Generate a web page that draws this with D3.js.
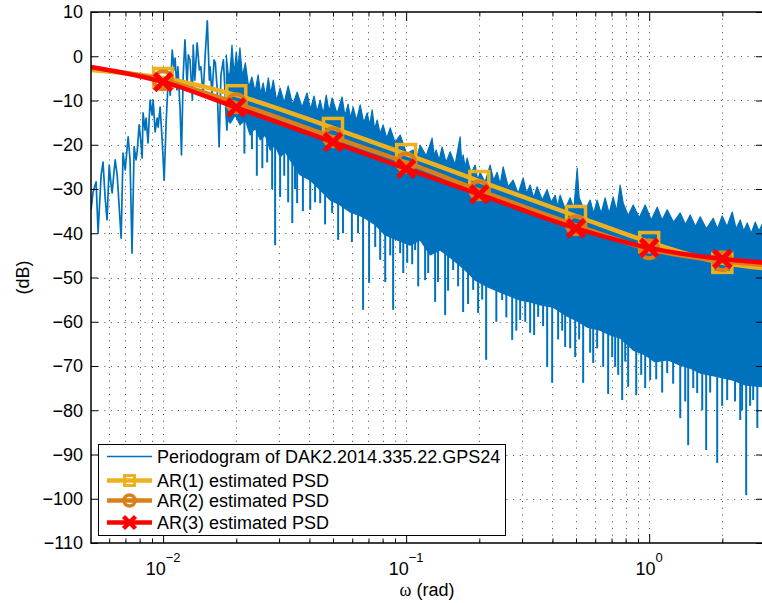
<!DOCTYPE html>
<html>
<head>
<meta charset="utf-8">
<script src="https://cdn.jsdelivr.net/npm/d3@7"></script>
<style>
  body { margin: 0; background: #fff; }
  svg text { font-family: "Liberation Sans", Arial, Helvetica, sans-serif; }
</style>
</head>
<body>
<div id="chart"></div>
<script>

// periodogram, low frequencies (single line)
const pgW = [0.00505,0.00515,0.00525,0.0053,0.0054,0.00556,0.00566,0.00577,0.00588,0.006,0.00611,0.00617,0.00629,0.00635,0.00647,0.00653,0.00672,0.00684,0.00698,0.00704,0.00718,0.00731,0.00745,0.0076,0.00774,0.00782,0.00797,0.00812,0.0082,0.00827,0.00843,0.00851,0.00867,0.00884,0.00901,0.0091,0.00927,0.00945,0.00954,0.00972,0.00991,0.0101,0.0103,0.0104,0.0105,0.0107,0.0109,0.0111,0.0112,0.0114,0.0115,0.01175,0.0119,0.0121,0.0123,0.01255,0.0127,0.0129,0.0132,0.0133,0.0135,0.0138,0.0141,0.0143,0.0146,0.0149,0.0152,0.0155,0.0156,0.0159,0.0162,0.0164,0.0167,0.017,0.0173,0.0177,0.018,0.0183,0.0187,0.0189];
const pgDb = [-34.7,-30.7,-29.1,-28.4,-39.9,-26.8,-23.9,-31.8,-37.0,-24.6,-29.1,-30.9,-25.7,-23.4,-26.8,-30.2,-41.1,-21.9,-25.7,-23.4,-18.2,-23.4,-44.5,-20.5,-23.4,-21.6,-15.5,-20.1,-23.0,-12.8,-16.7,-14.0,-19.6,-9.9,-13.3,-9.9,-17.1,-14.0,-16.0,-11.5,-18.9,-28.0,-14.4,-9.9,-4.2,-8.8,1.4,-3.1,-0.4,-7.6,-2.4,-12.1,-22.3,-4.2,3.7,-6.5,0.3,-0.8,-9.9,2.5,-5.4,3.0,-3.1,-2.4,-8.8,0.3,8.0,-5.4,-2.4,-8.8,-0.8,-1.5,-7.6,-20.5,-4.2,-0.8,-8.8,-16.7,-6.5,-3.8];

// periodogram, dense part: jagged upper envelope and lower edge of the solid band
const topW = [0.0182,0.0187,0.0192,0.0196,0.02,0.0203,0.0207,0.0212,0.0218,0.0225,0.0232,0.0239,0.0246,0.0252,0.0258,0.0264,0.0271,0.0277,0.0284,0.0293,0.0303,0.0315,0.0327,0.0341,0.0356,0.0373,0.0391,0.0404,0.0418,0.043,0.0443,0.0456,0.0469,0.0482,0.0496,0.052,0.0545,0.056,0.0577,0.059,0.0605,0.0625,0.0647,0.0669,0.0691,0.0708,0.0725,0.0742,0.076,0.0782,0.0804,0.0832,0.086,0.09,0.0945,0.1005,0.1069,0.1105,0.1142,0.121,0.1279,0.1304,0.1329,0.1367,0.1406,0.146,0.1517,0.159,0.1668,0.1692,0.1716,0.1749,0.1782,0.185,0.1923,0.197,0.2016,0.211,0.2216,0.229,0.2369,0.2437,0.2507,0.263,0.2756,0.289,0.303,0.313,0.3238,0.3345,0.346,0.363,0.3804,0.395,0.4104,0.42,0.4302,0.451,0.4731,0.49,0.5055,0.5151,0.543,0.5717,0.591,0.6109,0.634,0.659,0.684,0.7111,0.735,0.7598,0.7816,0.82,0.8595,0.91,0.9628,1.02,1.079,1.13,1.186,1.26,1.342,1.41,1.475,1.55,1.622,1.72,1.834,1.91,1.997,2.09,2.196,2.28,2.369,2.45,2.531,2.63,2.731,2.83,2.945];
const topDb = [0.3,-6,2.5,-4,1.0,-3,1.9,-4.5,-1.5,-7,-4.7,-8,-4.2,-8.5,-6.0,-9,-4.9,-8.5,-5.4,-10,-7.2,-10.5,-6.7,-11,-8.1,-11.5,-8.3,-12,-9.0,-12.5,-9.9,-13,-8.8,-12.5,-9.4,-13,-9.2,-13.5,-10.8,-14,-11.5,-14.5,-11.0,-15,-12.8,-15.5,-12.1,-16.5,-14.4,-17.5,-15.5,-18.5,-16.2,-19.5,-17.8,-22,-21.2,-23,-20.1,-22.5,-18.5,-22.5,-21.2,-23.5,-20.5,-24,-21.6,-24.5,-18.2,-24,-22.3,-25,-23.0,-26.5,-24.6,-28,-26.2,-28.5,-24.6,-28,-26.2,-29,-25.0,-29.5,-28.0,-31,-27.5,-31,-29.1,-32,-29.5,-32.5,-30.2,-33,-31.4,-34,-31.4,-34.5,-32.0,-34.5,-25.3,-32.0,-35,-32.5,-35.5,-32.5,-35.5,-32.0,-35.5,-31.8,-35,-29.1,-33.2,-36,-33.6,-36.5,-33.6,-37,-34.1,-37,-34.7,-37.5,-35.4,-38,-35.9,-38.5,-36.3,-39,-36.6,-39,-36.1,-38.5,-35.2,-39,-37.0,-39.5,-37.7,-40,-37.5,-39.5,-37.5];
const botW = [0.0182,0.0189,0.0198,0.0207,0.0218,0.0228,0.0239,0.0251,0.0263,0.0276,0.0289,0.0303,0.0318,0.0333,0.0366,0.0403,0.0443,0.0487,0.0535,0.0588,0.0665,0.0746,0.082,0.0918,0.1039,0.1142,0.1256,0.138,0.1561,0.1749,0.1923,0.2154,0.2437,0.2679,0.2945,0.3238,0.356,0.4027,0.4511,0.4961,0.5557,0.6285,0.6911,0.7598,0.8595,0.9628,1.059,1.186,1.342,1.475,1.622,1.869,2.216,2.484,2.945];
const botDb = [-14.0,-15.1,-13.3,-15.5,-14.4,-17.8,-16.2,-18.9,-17.8,-21.2,-20.1,-22.8,-21.6,-23.4,-26.8,-28.0,-30.2,-32.5,-33.6,-35.2,-36.3,-38.1,-40.4,-41.5,-42.7,-41.5,-44.9,-43.8,-46.0,-48.3,-50.6,-52.1,-53.3,-54.2,-55.1,-55.5,-56.2,-56.7,-58.5,-59.6,-61.2,-61.9,-63.0,-63.7,-66.4,-67.5,-69.1,-68.6,-69.8,-70.5,-71.6,-72.3,-73.2,-74.3,-74.7];

// single-bin dips below the band: frequency, start (inside band), tip
const dipW = [0.0256,0.0289,0.0303,0.034,0.0356,0.0403,0.0443,0.0496,0.0525,0.0665,0.0704,0.0746,0.082,0.0884,0.0945,0.101,0.1089,0.1197,0.1316,0.1447,0.1561,0.1716,0.1887,0.2134,0.2484,0.2731,0.2945,0.3238,0.3493,0.3804,0.3989,0.4511,0.4961,0.535,0.5883,0.6467,0.678,0.7246,0.7743,0.8195,0.8843,1.0095,1.186,1.342,1.447,1.576,1.716,1.905,2.094,2.369,2.507,2.679,
  0.0216,0.0232,0.0243,0.0268,0.0281,0.0315,0.0327,0.0349,0.0376,0.0422,0.0464,0.055,0.0598,0.0634,0.0782,0.086,0.0973,0.1059,0.1121,0.1232,0.1353,0.1488,0.1636,0.1798,0.1977,0.2055,0.235,0.2584,0.284,0.309,0.3362,0.366,0.4221,0.4386,0.4731,0.5151,0.5717,0.6109,0.7044,0.7457,0.797,0.9272,0.9628,1.069,1.131,1.255,1.407,1.518,1.653,1.782,1.997,2.256,2.412,2.602,2.786];
const dipTop = [-18,-19,-22,-24,-25,-27,-29,-31,-32,-35,-36,-37,-39,-40,-41,-41,-41,-42,-43,-44,-45,-47,-49,-51,-52,-53,-54,-54,-55,-55,-56,-57,-58,-59,-60,-61,-62,-62,-63,-64,-65,-66,-67,-68,-69,-70,-70,-71,-71,-72,-73,-73,
  -13,-15,-15,-17,-18,-20,-21,-23,-25,-27,-29,-32,-33,-34,-37,-39,-40,-40,-40,-42,-42,-43,-45,-47,-49,-49,-51,-52,-53,-53,-54,-54,-55,-56,-57,-58,-59,-60,-61,-61,-62,-65,-65,-67,-67,-67,-68,-69,-70,-70,-70,-71,-72,-72,-72];
const dipDb = [-25.3,-42.7,-31.8,-37.7,-33.2,-34.7,-33.2,-35.4,-41.5,-57.3,-51.2,-43.1,-51.0,-57.3,-44.5,-46.7,-43.8,-50.6,-55.5,-58.5,-48.3,-57.8,-52.8,-68.6,-55.1,-64.1,-59.6,-62.5,-58.9,-70.2,-73.8,-65.7,-68.0,-73.8,-69.3,-70.2,-76.3,-70.2,-77.7,-74.7,-76.6,-73.2,-71.6,-81.8,-87.9,-76.1,-89.0,-91.9,-77.7,-82.2,-99.2,-77.7,
  -22,-21,-27,-24,-30,-27,-33,-30,-35,-33,-38,-40,-42,-40,-46,-45,-49,-47,-52,-49,-51,-53,-52,-56,-58,-55,-60,-59,-62,-60,-63,-61,-64,-62,-66,-64,-67,-66,-68,-72,-69,-72,-75,-73,-76,-74,-78,-75,-80,-76,-79,-78,-80,-79,-84];

// AR model spectra
const arW = [0.00505,0.01,0.02,0.05,0.1,0.2,0.5,1,2,2.94];
const ar1 = [-3.1,-4.9,-8.8,-16.2,-22.1,-28.2,-36.1,-42.0,-46.7,-47.9];
const ar2 = [-2.6,-5.4,-10.6,-18.3,-24.0,-30.3,-38.2,-43.6,-46.3,-47.2];
const ar3 = [-2.4,-5.8,-11.6,-19.4,-25.4,-31.2,-38.9,-43.3,-45.8,-46.6];
const markerW = [0.01,0.02,0.05,0.1,0.2,0.5,1,2];

const yTicks = [-110,-100,-90,-80,-70,-60,-50,-40,-30,-20,-10,0,10];
const xMajor = [0.01,0.1,1];
const xMajorExp = ["\u22122","\u22121","0"];
const xMinor = [0.006,0.007,0.008,0.009,0.02,0.03,0.04,0.05,0.06,0.07,0.08,0.09,0.2,0.3,0.4,0.5,0.6,0.7,0.8,0.9,2];

const legendLabels = ["Periodogram of DAK2.2014.335.22.GPS24","AR(1) estimated PSD","AR(2) estimated PSD","AR(3) estimated PSD"];

const blue = "#0072BD", yellow = "#EDB120", orange = "#D9801A", red = "#FF0000";

const width = 762, height = 603,
  margin = ({ top: 12, right: -1, bottom: 60, left: 91 });

const svg = d3.select("#chart")
  .append("svg")
  .attr("width", width)
  .attr("height", height);

let x = d3.scaleLog()
  .domain([0.00505, 2.94])
  .range([margin.left, width - margin.right]);

let y = d3.scaleLinear()
  .domain([-110, 10])
  .range([height - margin.bottom, margin.top]);

const x0 = margin.left, x1 = width - margin.right,
  y0 = margin.top, y1 = height - margin.bottom;

svg.append("clipPath").attr("id", "plot")
  .append("rect")
  .attr("x", x0).attr("y", y0)
  .attr("width", x1 - x0).attr("height", y1 - y0);

/* dotted grid */
const grid = svg.append("g")
  .attr("stroke", "#222")
  .attr("stroke-width", 1)
  .attr("stroke-dasharray", "1,5.7")
  .attr("opacity", 0.8);

grid.selectAll(".gy").data(yTicks.slice(1, -1)).join("line")
  .attr("x1", x0).attr("x2", x1)
  .attr("y1", d => Math.round(y(d)) + 0.5).attr("y2", d => Math.round(y(d)) + 0.5);

grid.selectAll(".gx").data(xMajor.concat(xMinor)).join("line")
  .attr("x1", d => Math.round(x(d)) + 0.5).attr("x2", d => Math.round(x(d)) + 0.5)
  .attr("y1", y0).attr("y2", y1);

/* periodogram */
const plot = svg.append("g").attr("clip-path", "url(#plot)");

let line = d3.line()
  .x(d => x(d[0]))
  .y(d => y(d[1]));

const band = topW.map((w, i) => [w, topDb[i]])
  .concat(botW.map((w, i) => [w, botDb[i]]).reverse());

plot.append("path")
  .attr("d", line(band) + "Z")
  .attr("fill", blue)
  .attr("stroke", blue)
  .attr("stroke-width", 1.2)
  .attr("stroke-linejoin", "round");

plot.selectAll(".dip").data(dipW).join("line")
  .attr("x1", d => x(d)).attr("x2", d => x(d))
  .attr("y1", (d, i) => y(dipTop[i])).attr("y2", (d, i) => y(dipDb[i]))
  .attr("stroke", blue)
  .attr("stroke-width", 2);

plot.append("path")
  .datum(pgW.map((w, i) => [w, pgDb[i]]))
  .attr("d", line)
  .attr("fill", "none")
  .attr("stroke", blue)
  .attr("stroke-width", 1.7)
  .attr("stroke-linejoin", "round");

/* AR curves */
let smooth = d3.line()
  .x(d => x(d[0]))
  .y(d => y(d[1]))
  .curve(d3.curveMonotoneX);

function marker(g, kind, color, s, w) {
  if (kind === "square") {
    g.append("rect").attr("x", -s).attr("y", -s).attr("width", 2 * s).attr("height", 2 * s)
      .attr("fill", "none").attr("stroke", color).attr("stroke-width", w);
  } else if (kind === "circle") {
    g.append("circle").attr("r", s)
      .attr("fill", "none").attr("stroke", color).attr("stroke-width", w);
  } else {
    g.append("path").attr("d", `M${-s},${-s}L${s},${s}M${-s},${s}L${s},${-s}`)
      .attr("stroke", color).attr("stroke-width", w);
  }
}

const series = [
  { v: ar1, color: yellow, kind: "square", s: 9.5, w: 3.5 },
  { v: ar2, color: orange, kind: "circle", s: 9, w: 4 },
  { v: ar3, color: red, kind: "cross", s: 8.5, w: 5 }
];

for (let s of series) {
  const pts = arW.map((w, i) => [w, s.v[i]]);
  plot.append("path")
    .datum(pts)
    .attr("d", smooth)
    .attr("fill", "none")
    .attr("stroke", s.color)
    .attr("stroke-width", 4.5);
  for (let p of pts.filter(p => markerW.includes(p[0]))) {
    marker(plot.append("g").attr("transform", `translate(${x(p[0])},${y(p[1])})`), s.kind, s.color, s.s, s.w);
  }
}

/* axes */
svg.append("g")
  .attr("transform", `translate(${x0},0)`)
  .call(d3.axisLeft(y).tickValues(yTicks).tickSize(-7).tickPadding(8).tickSizeOuter(0))
  .call(g => g.attr("font-size", 18).attr("font-family", "Liberation Sans, Arial, sans-serif"))
  .call(g => g.select(".domain").remove())
  .call(g => g.selectAll(".tick text").attr("fill", "#000"));

svg.append("g")
  .attr("transform", `translate(${x1},0)`)
  .call(d3.axisRight(y).tickValues(yTicks).tickSize(-7).tickFormat("").tickSizeOuter(0))
  .call(g => g.select(".domain").remove());

for (let [sel, pos] of [[d3.axisBottom, y1], [d3.axisTop, y0]]) {
  svg.append("g")
    .attr("transform", `translate(0,${pos})`)
    .call(sel(x).tickValues(xMajor).tickSize(-9).tickFormat("").tickSizeOuter(0))
    .call(g => g.select(".domain").remove());
  svg.append("g")
    .attr("transform", `translate(0,${pos})`)
    .call(sel(x).tickValues(xMinor).tickSize(-4.5).tickFormat("").tickSizeOuter(0))
    .call(g => g.select(".domain").remove());
}

svg.selectAll(".tick line").attr("stroke", "#000").attr("stroke-width", 1);

const xl = svg.append("g").selectAll("text").data(xMajor).join("text")
  .attr("x", d => x(d))
  .attr("y", 575)
  .attr("text-anchor", "middle")
  .attr("font-size", 18);
xl.append("tspan").text("10");
xl.append("tspan").attr("dy", -13).attr("font-size", 13).text((d, i) => xMajorExp[i]);

svg.append("rect")
  .attr("x", x0).attr("y", y0)
  .attr("width", x1 - x0).attr("height", y1 - y0)
  .attr("fill", "none")
  .attr("stroke", "#000")
  .attr("stroke-width", 1.5);

svg.append("text")
  .attr("x", (x0 + x1) / 2)
  .attr("y", 596)
  .attr("text-anchor", "middle")
  .attr("font-size", 18)
  .call(t => t.append("tspan").attr("font-family", "Liberation Serif, serif").text("\u03c9"))
  .call(t => t.append("tspan").text(" (rad)"));

svg.append("text")
  .attr("transform", `translate(29,${(y0 + y1) / 2}) rotate(-90)`)
  .attr("text-anchor", "middle")
  .attr("font-size", 18)
  .text("(dB)");

/* legend */
const legend = svg.append("g").attr("transform", "translate(98.5,444.5)");
legend.append("rect")
  .attr("width", 407).attr("height", 91)
  .attr("fill", "#fff").attr("stroke", "#000").attr("stroke-width", 1);

const rowY = [12, 36, 56, 78];
const rowStyle = [
  { color: blue, w: 1.6 },
  { color: yellow, w: 4.5, kind: "square", s: 5, mw: 3 },
  { color: orange, w: 4.5, kind: "circle", s: 5.5, mw: 3.5 },
  { color: red, w: 4.5, kind: "cross", s: 6, mw: 4.5 }
];

legendLabels.forEach((lab, i) => {
  const r = legend.append("g").attr("transform", `translate(0,${rowY[i]})`);
  r.append("line").attr("x1", 8.5).attr("x2", 53.5)
    .attr("stroke", rowStyle[i].color).attr("stroke-width", rowStyle[i].w);
  if (rowStyle[i].kind) marker(r.append("g").attr("transform", "translate(31,0)"), rowStyle[i].kind, rowStyle[i].color, rowStyle[i].s, rowStyle[i].mw);
  r.append("text")
    .attr("x", 58.5)
    .attr("dy", "0.35em")
    .attr("font-size", 18)
    .text(lab);
});

</script>
</body>
</html>
